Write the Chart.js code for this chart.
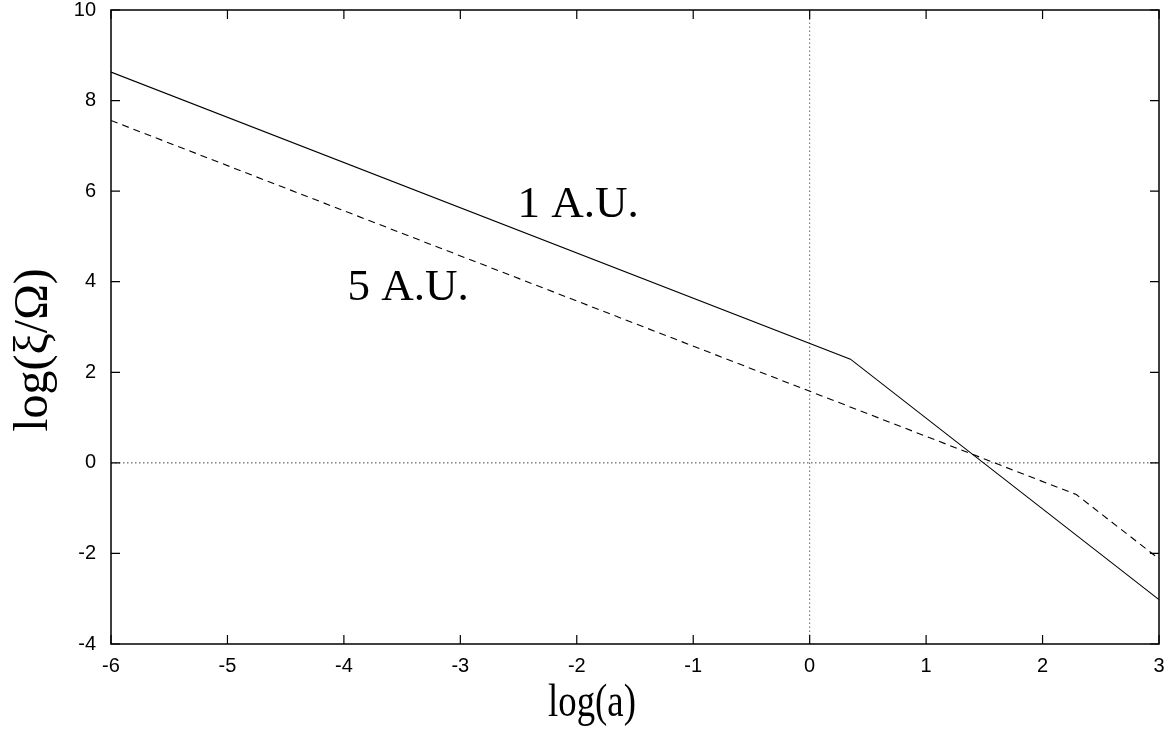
<!DOCTYPE html>
<html>
<head>
<meta charset="utf-8">
<script src="https://cdn.jsdelivr.net/npm/chart.js@4/dist/chart.umd.min.js"></script>
<style>
  html, body { margin: 0; padding: 0; background: #fff; }
</style>
</head>
<body>
<canvas id="chart" width="1176" height="738"></canvas>
<script>
// curves: log(a) vs log(xi/Omega)
var logA1 = [-6, 0.35, 3];
var xi1 = [8.63, 2.29, -3.02];
var logA5 = [-6, 2.29, 3];
var xi5 = [7.56, -0.70, -2.12];

// zero axes (gnuplot style dotted lines)
var zeroX = [-6, 3];
var zeroY = [-4, 10];

// in-plot labels
var labelText = ["1 A.U.", "5 A.U."];
var labelX = [-2.51, -3.97];
var labelY = [5.44, 3.60];

var xTitle = "log(a)";
var yTitle = "log(\u03BE/\u03A9)";

function pts(xs, ys) {
    var out = [];
    for (var i = 0; i < xs.length; i++) {
        out.push({x: xs[i], y: ys[i]});
    }
    return out;
}

var serif = "'Liberation Serif', 'Times New Roman', serif";
var sans = "'Liberation Sans', Arial, sans-serif";

var framePlugin = {
    id: "frame",
    afterDraw: function(chart) {
        var ctx = chart.ctx;
        var a = chart.chartArea;
        var xs = chart.scales.x;
        var ys = chart.scales.y;
        var len = 9;
        ctx.save();
        ctx.strokeStyle = "#000";
        ctx.lineWidth = 1.5;
        ctx.strokeRect(a.left, a.top, a.right - a.left, a.bottom - a.top);
        ctx.lineWidth = 1.2;
        ctx.beginPath();
        xs.ticks.forEach(function(t) {
            var px = xs.getPixelForValue(t.value);
            ctx.moveTo(px, a.bottom); ctx.lineTo(px, a.bottom - len);
            ctx.moveTo(px, a.top); ctx.lineTo(px, a.top + len);
        });
        ys.ticks.forEach(function(t) {
            var py = ys.getPixelForValue(t.value);
            ctx.moveTo(a.left, py); ctx.lineTo(a.left + len, py);
            ctx.moveTo(a.right, py); ctx.lineTo(a.right - len, py);
        });
        ctx.stroke();

        // curve labels
        ctx.fillStyle = "#000";
        ctx.font = "45px " + serif;
        ctx.textBaseline = "alphabetic";
        ctx.textAlign = "left";
        for (var i = 0; i < labelText.length; i++) {
            ctx.fillText(labelText[i], xs.getPixelForValue(labelX[i]), ys.getPixelForValue(labelY[i]));
        }

        // axis titles
        ctx.textAlign = "center";
        ctx.textBaseline = "middle";
        ctx.save();
        ctx.font = "48px " + serif;
        ctx.translate(34, 350);
        ctx.rotate(-Math.PI / 2);
        ctx.fillText(yTitle, 0, 0);
        ctx.restore();

        ctx.font = "46px " + serif;
        ctx.translate(592, 704);
        ctx.scale(0.8, 1);
        ctx.fillText(xTitle, 0, 0);
        ctx.restore();
    }
};

new Chart(document.getElementById("chart"), {
    type: "line",
    data: {
        datasets: [
            {label: "1 A.U.", data: pts(logA1, xi1), borderColor: "#000", borderWidth: 1.1, pointRadius: 0, tension: 0},
            {label: "5 A.U.", data: pts(logA5, xi5), borderColor: "#000", borderWidth: 1.1, borderDash: [7, 5], pointRadius: 0, tension: 0},
            {label: "y0", data: pts(zeroX, [0, 0]), borderColor: "#444", borderWidth: 1, borderDash: [1.5, 2.5], pointRadius: 0},
            {label: "x0", data: pts([0, 0], zeroY), borderColor: "#666", borderWidth: 1, borderDash: [1.5, 2.5], pointRadius: 0}
        ]
    },
    options: {
        responsive: false,
        animation: false,
        layout: {padding: {top: 10, right: 17, left: 0, bottom: 0}},
        plugins: {legend: {display: false}, tooltip: {enabled: false}},
        scales: {
            x: {
                type: "linear",
                min: -6, max: 3,
                afterFit: function(s) { s.height = 94; s.paddingLeft = 0; s.paddingRight = 0; },
                ticks: {stepSize: 1, color: "#000", font: {family: sans, size: 20}, padding: 10, maxRotation: 0},
                grid: {display: true, drawOnChartArea: false, drawTicks: false},
                border: {display: false}
            },
            y: {
                type: "linear",
                min: -4, max: 10,
                afterFit: function(s) { s.width = 111; s.paddingTop = 0; s.paddingBottom = 0; },
                ticks: {stepSize: 2, color: "#000", font: {family: sans, size: 20}, padding: 15},
                grid: {display: true, drawOnChartArea: false, drawTicks: false},
                border: {display: false}
            }
        }
    },
    plugins: [framePlugin]
});
</script>
</body>
</html>
